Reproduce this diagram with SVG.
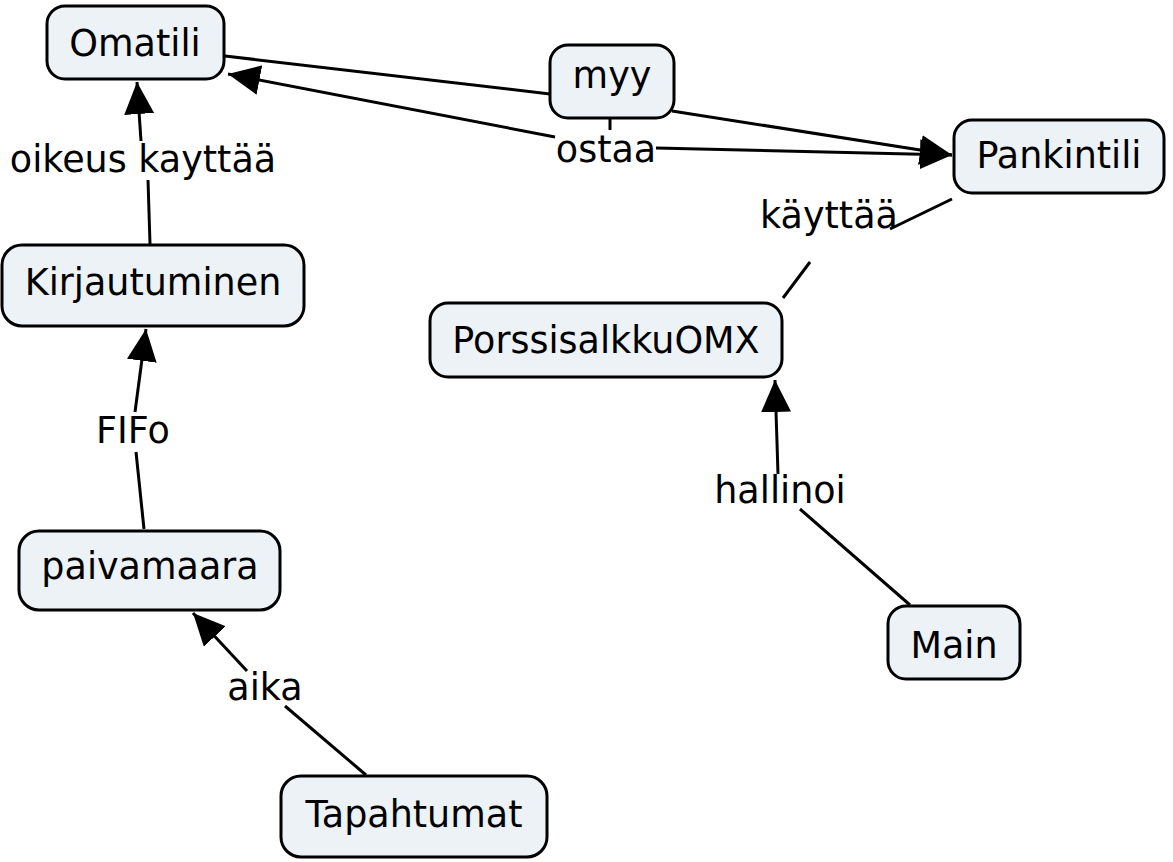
<svg xmlns="http://www.w3.org/2000/svg" width="1173" height="862" viewBox="0 0 1173 862">
<style>
.node rect{fill:#ecf2f5;stroke:#000;stroke-width:3}
text{font-family:"DejaVu Sans",Verdana,sans-serif;font-size:36.5px;fill:#000;text-anchor:middle}
.conn path{fill:none;stroke:#000;stroke-width:3}
</style>
<defs>
<marker id="arr" markerUnits="userSpaceOnUse" markerWidth="34" markerHeight="32" refX="32" refY="15" orient="auto">
<path d="M0,0 L32,15 L0,30 z" fill="#000"/>
</marker>
</defs>
<rect width="1173" height="862" fill="#fff"/>
<g id="connectors" class="conn">
<path d="M225,56 L550,94"/>
<path d="M672,111 L952,155" marker-end="url(#arr)"/>
<path d="M610,118 L610,130"/>
<path d="M555,137 L228,74" marker-end="url(#arr)"/>
<path d="M656,148 L952,155" marker-end="url(#arr)"/>
<path d="M952,199 L890,229"/>
<path d="M810,262 L783,298"/>
<path d="M910,605 L800,509"/>
<path d="M778,474 L775,380" marker-end="url(#arr)"/>
<path d="M150,244 L148,180"/>
<path d="M141,141 L137,82" marker-end="url(#arr)"/>
<path d="M144,529 L136,452"/>
<path d="M135,412 L146,329" marker-end="url(#arr)"/>
<path d="M366,775 L285,706"/>
<path d="M247,671 L193,613" marker-end="url(#arr)"/>
<text x="606" y="162">ostaa</text>
<text x="143" y="172">oikeus kayttää</text>
<text x="829" y="228">käyttää</text>
<text x="133" y="443">FIFo</text>
<text x="780" y="503">hallinoi</text>
<text x="265" y="700">aika</text>
</g>
<g id="Omatili" class="node"><rect x="47" y="6" width="177" height="73" rx="18"/><text x="135" y="56">Omatili</text></g>
<g id="myy" class="node"><rect x="550" y="45" width="124" height="73" rx="18"/><text x="612" y="88">myy</text></g>
<g id="Pankintili" class="node"><rect x="954" y="120" width="210" height="73" rx="18"/><text x="1059" y="168">Pankintili</text></g>
<g id="Kirjautuminen" class="node"><rect x="2" y="245" width="302" height="81" rx="20"/><text x="153" y="295">Kirjautuminen</text></g>
<g id="PorssisalkkuOMX" class="node"><rect x="430" y="303" width="352" height="74" rx="18"/><text x="606" y="353">PorssisalkkuOMX</text></g>
<g id="paivamaara" class="node"><rect x="19" y="531" width="261" height="79" rx="20"/><text x="150" y="579">paivamaara</text></g>
<g id="Main" class="node"><rect x="888" y="606" width="132" height="73" rx="18"/><text x="954" y="658">Main</text></g>
<g id="Tapahtumat" class="node"><rect x="281" y="776" width="266" height="81" rx="20"/><text x="414" y="827">Tapahtumat</text></g>
</svg>
